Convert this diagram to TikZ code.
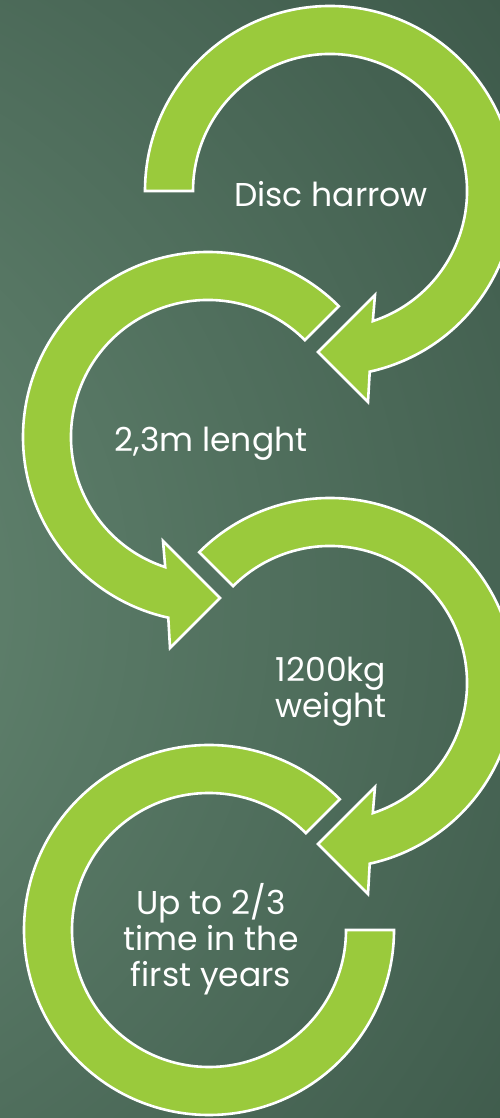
\documentclass[tikz,border=0pt]{standalone}
\usepackage{fontspec}
\setmainfont{Poppins}
\definecolor{LoopGreen}{HTML}{9ACA3C}
\definecolor{LoopEdge}{HTML}{FFFFFF}
\definecolor{LoopBgLight}{HTML}{698C76}
\definecolor{LoopBgDark}{HTML}{3E5A4B}
\newcommand{\LoopOuter}{185}
\newcommand{\LoopInner}{137}
\tikzset{
    loop/diagram/.style={
        x=1pt, y=1pt,
        line join=miter,
        every node/.style={inner sep=0pt, outer sep=0pt}
    },
    loop/ring/.style={fill=LoopGreen, draw=LoopEdge, line width=2.6pt},
    loop/label/.style={
        text=white, align=center,
        font=\fontsize{33}{36}\selectfont
    },
    loop/arrow/.pic={
        \path[loop/ring] (#1:\LoopOuter)
            arc[start angle=#1, end angle=-77.6, radius=\LoopOuter]
            -- (38,-211) -- (-12,-161) -- (45,-104)
            -- (-71.8:\LoopInner)
            arc[start angle=-71.8, end angle=#1, radius=\LoopInner] -- cycle;
    }
}
\begin{document}
\begin{tikzpicture}[loop/diagram]
    \useasboundingbox (0,0) rectangle (500,1118);
    \begin{scope}
        \clip (0,0) rectangle (500,1118);
        \shade[inner color=LoopBgLight, outer color=LoopBgDark]
            (-300,520) circle (1000);
    \end{scope}
    % the four bent arrows, top to bottom
    \pic[shift={(330,927)}] {loop/arrow=180};
    \pic[shift={(208,681)}, xscale=-1] {loop/arrow=135};
    \pic[shift={(330,435)}] {loop/arrow=135};
    \path[loop/ring, shift={(209,188)}] (45:\LoopOuter)
        arc[start angle=45, end angle=360, radius=\LoopOuter]
        -- (0:\LoopInner)
        arc[start angle=360, end angle=45, radius=\LoopInner] -- cycle;
    \node[loop/label] (disc) at (331,924) {Disc harrow};
    \node[loop/label] (length) at (211,674) {2,3m lenght};
    \node[loop/label] (weight) at (331,426) {1200kg\\weight};
    \node[loop/label] (share) at (211,179) {Up to 2/3\\time in the\\first years};
\end{tikzpicture}
\end{document}
